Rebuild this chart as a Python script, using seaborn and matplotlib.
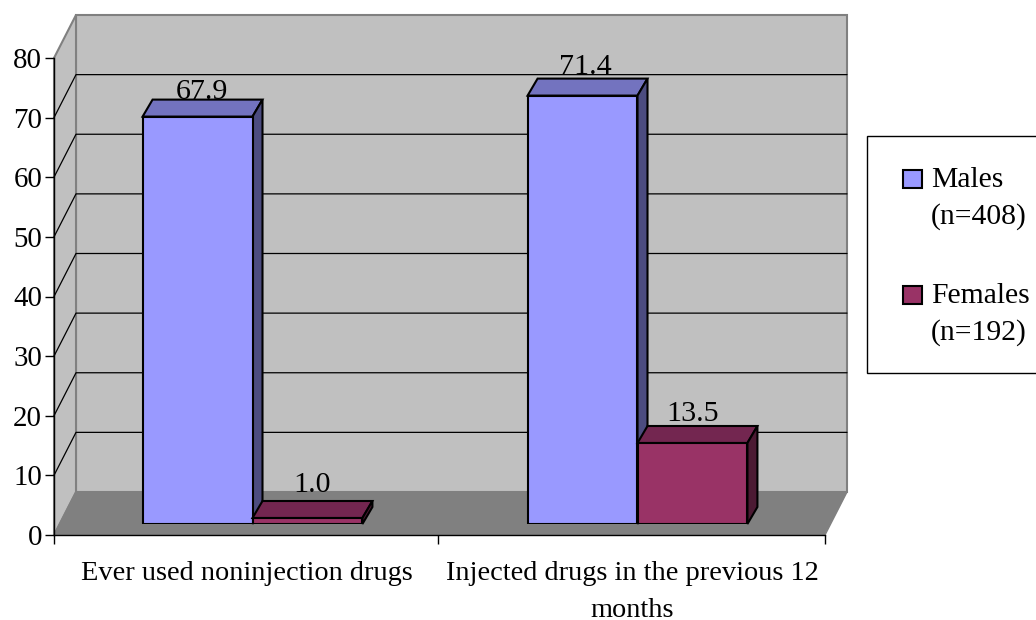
import matplotlib
matplotlib.use('Agg')
import matplotlib.pyplot as plt
from matplotlib.patches import Polygon, Rectangle
from matplotlib.transforms import IdentityTransform
import pandas as pd
import seaborn as sns

categories = ['Ever used noninjection drugs', 'Injected drugs in the previous 12\nmonths']
males = [67.9, 71.4]
females = [1.0, 13.5]
value_labels = ['67.9', '71.4', '1.0', '13.5']
y_ticks = [0, 10, 20, 30, 40, 50, 60, 70, 80]
legend_names = ['Males\n(n=408)', 'Females\n(n=192)']

# front / top / side colours of each series
male_cols = ['#9999FF', '#7373BF', '#4C4C80']
female_cols = ['#993366', '#732650', '#4C1A33']

W, H = 1036, 620
FS = 20.4

sns.set_style('white')
plt.rcParams['font.family'] = ['Liberation Serif', 'DejaVu Serif']
plt.rcParams['text.color'] = 'black'
plt.rcParams['xtick.labelcolor'] = 'black'
plt.rcParams['ytick.labelcolor'] = 'black'

df = pd.DataFrame({
    'category': categories * 2,
    'sex': ['Males'] * 2 + ['Females'] * 2,
    'value': males + females,
})

fig = plt.figure(figsize=(W / 100, H / 100), dpi=100)


def axes_px(left, top, right, bottom):
    return fig.add_axes([left / W, 1 - bottom / H, (right - left) / W, (bottom - top) / H])


# axis plane, and the plane the bars stand in (further back in the box)
ax = axes_px(54, 58, 825, 535)
bar_ax = axes_px(60, 44, 830, 524)
bar_ax.patch.set_alpha(0)

ax.set_xlim(-0.5, 1.5)
ax.set_ylim(0, 80)
bar_ax.set_xlim(-0.5, 1.5)

sns.despine(ax=ax)
ax.set_yticks(y_ticks)
ax.tick_params(axis='y', labelsize=FS + 0.4, length=6.5, width=1, color='black', pad=2, left=True)
ax.set_xticks([0, 1])
ax.set_xticklabels(categories, fontsize=FS, linespacing=1.66)
ax.tick_params(axis='x', which='major', length=0, pad=18.5)
ax.set_xticks([-0.5, 0.495, 1.5], minor=True)
ax.tick_params(axis='x', which='minor', length=6.5, width=1, color='black', bottom=True)
ax.set_xlabel('')
ax.set_ylabel('')
for s in ['left', 'bottom']:
    ax.spines[s].set_color('black')
    ax.spines[s].set_linewidth(1)

# the box behind the bars
DX, DY = 22, 43
to_px = ax.transData.transform
p00 = to_px((-0.5, 0))
p10 = to_px((1.5, 0))
p01 = to_px((-0.5, 80))
p11 = to_px((1.5, 80))
off = (DX, DY)
grey = '#808080'
box = IdentityTransform()
ax.add_patch(Polygon([p01 + off, p11 + off, p10 + off, p00 + off], closed=True, fc='#C0C0C0', ec=grey,
                     lw=1.5, transform=box, clip_on=False, zorder=0.1))
ax.add_patch(Polygon([p00, p01, p01 + off, p00 + off], closed=True, fc='#C0C0C0', ec=grey,
                     lw=1.5, transform=box, clip_on=False, zorder=0.1))
ax.add_patch(Polygon([p00, p10, p10 + off, p00 + off], closed=True, fc=grey, ec=grey,
                     lw=1, transform=box, clip_on=False, zorder=0.2))
for v in y_ticks[1:-1]:
    a = to_px((-0.5, v))
    b = to_px((1.5, v))
    ax.plot([a[0], a[0] + DX, b[0] + DX], [a[1], a[1] + DY, b[1] + DY], color='black', lw=0.9,
            transform=box, clip_on=False, zorder=0.3)

# bars
sns.barplot(data=df, x='category', y='value', hue='sex', hue_order=['Males', 'Females'],
            palette={'Males': male_cols[0], 'Females': female_cols[0]}, width=0.571, gap=0,
            edgecolor='black', linewidth=1.5, saturation=1, legend=False, ax=bar_ax)
bar_ax.set_xlim(-0.5, 1.5)
bar_ax.set_ylim(0, 80)
bar_ax.axis('off')

bars = list(bar_ax.patches)
label_pad = [1, 5, 9, 5]
label_dx = [4, 3, 5, 0]
BX, BY = 10, 17
draw_order = sorted(range(4), key=lambda i: bars[i].get_x())
for z, i in enumerate(draw_order):
    bar = bars[i]
    cols = male_cols if i < 2 else female_cols
    bb = bar.get_window_extent()
    x0, x1, y0, y1 = bb.x0, bb.x1, bb.y0, bb.y1
    zz = 3 + z
    bar_ax.add_patch(Polygon([(x0, y1), (x1, y1), (x1 + BX, y1 + BY), (x0 + BX, y1 + BY)], closed=True,
                             fc=cols[1], ec='black', lw=1.5, transform=box, clip_on=False, zorder=zz))
    bar_ax.add_patch(Polygon([(x1, y0), (x1 + BX, y0 + BY), (x1 + BX, y1 + BY), (x1, y1)], closed=True,
                             fc=cols[2], ec='black', lw=1.5, transform=box, clip_on=False, zorder=zz))
    bar.set_zorder(zz + 0.5)
    bar_ax.annotate(value_labels[i], (bar.get_x() + bar.get_width() / 2, bar.get_height()),
                    xytext=(label_dx[i] * 0.72, (BY + label_pad[i]) * 0.72), textcoords='offset points',
                    ha='center', va='baseline', fontsize=FS + 1.2, color='black', zorder=20, annotation_clip=False)

# legend box
fig.add_artist(Rectangle((867 / W, 1 - 373 / H), 172 / W, 237 / H, transform=fig.transFigure,
                         fc='white', ec='black', lw=1))
for name, col, top in zip(legend_names, [male_cols[0], female_cols[0]], [170, 286]):
    fig.add_artist(Rectangle((903 / W, 1 - (top + 18) / H), 19 / W, 18 / H, transform=fig.transFigure,
                             fc=col, ec='black', lw=1.5))
    fig.text(931 / W, 1 - (top - 3) / H, name, fontsize=FS + 0.9, va='top', ha='left', linespacing=1.5)

fig.savefig('out.png', dpi=100)
